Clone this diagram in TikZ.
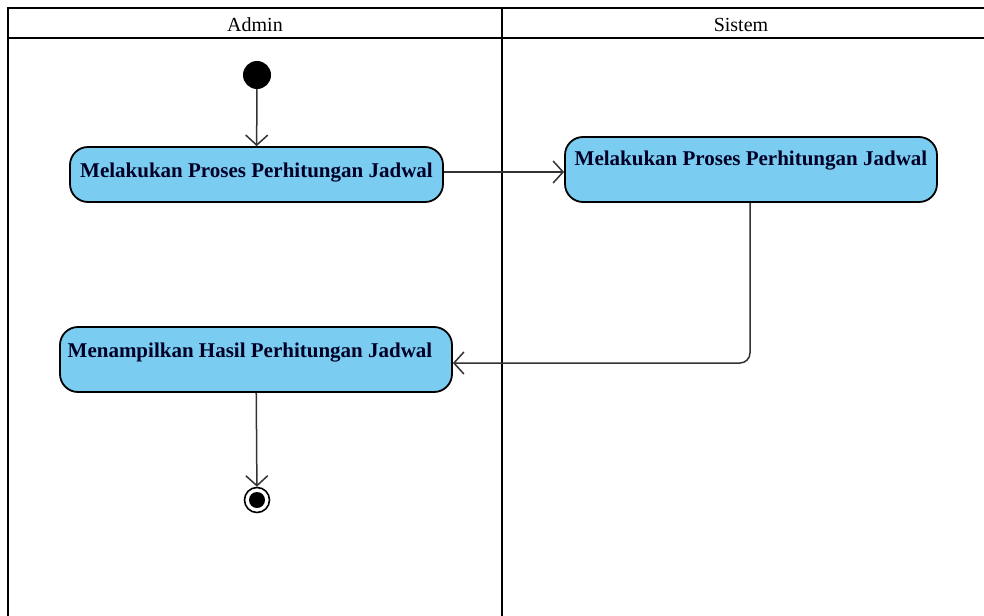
\documentclass[tikz,border=0pt]{standalone}
\usepackage{fontspec}
\setmainfont{Liberation Serif}
\usetikzlibrary{arrows.meta}
\definecolor{actfill}{HTML}{7ACCF0}
\tikzset{
  lane/.style={line width=2.4pt, draw=black},
  act/.style={draw=black, line width=1.8pt, fill=actfill, rounded corners=18pt, font=\bfseries\fontsize{21}{24}\selectfont, text=black!85!blue, inner sep=0pt},
  flow/.style={draw=black!80, line width=1.5pt, -{Straight Barb[length=10pt,width=22pt,line width=1.5pt]}},
  hdr/.style={font=\fontsize{20}{22}\selectfont}
}
\begin{document}
\begin{tikzpicture}[x=1pt,y=-1pt]
\useasboundingbox (0,0) rectangle (984,615);
% swimlanes
\draw[lane] (986,8) -- (8,8) -- (8,617);
\draw[lane] (8,38) -- (986,38);
\draw[lane] (502,8) -- (502,617);
\node[hdr] (hA) at (255,25) {Admin};
\node[hdr] (hS) at (741,25) {Sistem};
% start
\node[circle, fill=black, minimum size=28pt, inner sep=0pt] (start) at (257,75) {};
% activities
\node[act, minimum width=373pt, minimum height=55pt, text height=15pt, text depth=10pt] (a1) at (256.5,174.5) {Melakukan Proses Perhitungan Jadwal};
\node[act, minimum width=372pt, minimum height=65pt, text height=15pt, text depth=24pt] (a2) at (751,169.5) {Melakukan Proses Perhitungan Jadwal};
\node[act, minimum width=392pt, minimum height=65pt, text height=15pt, text depth=20pt] (a3) at (256,359.5) {\hspace*{-12pt}Menampilkan Hasil Perhitungan Jadwal};
% end
\node[circle, draw=black, line width=1.6pt, minimum size=25pt, inner sep=0pt] (end) at (257,500) {};
\node[circle, fill=black, minimum size=16pt, inner sep=0pt] (endin) at (end.center) {};
% flows
\draw[flow] (start) -- (a1);
\draw[flow] (a1.east |- 0,172) -- (a2.west |- 0,172);
\draw[flow, rounded corners=10pt] (a2.south -| 750,0) -- (750,363) -- (a3.east |- 0,363);
\draw[flow] (a3) -- (end);
\end{tikzpicture}
\end{document}
